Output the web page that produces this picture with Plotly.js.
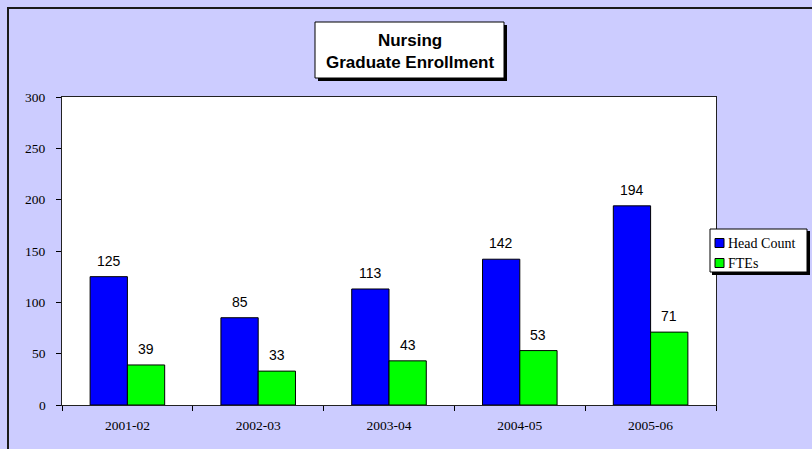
<!DOCTYPE html>
<html>
<head>
<meta charset="utf-8">
<script src="https://cdn.plot.ly/plotly-3.0.1.min.js"></script>
<style>html,body{margin:0;padding:0;background:#CCCCFF;}#chart{width:812px;height:449px;}</style>
</head>
<body>
<div id="chart"></div>
<script>
const categories = ["2001-02", "2002-03", "2003-04", "2004-05", "2005-06"];
const seriesNames = ["Head Count", "FTEs"];
const headCount = [125, 85, 113, 142, 194];
const ftes = [39, 33, 43, 53, 71];
const yTicks = [0, 50, 100, 150, 200, 250, 300];
const seriesColors = ["#0000FF", "#00FF00"];

const L = 62, R = 716, T = 97, B = 405;
const W = 812, H = 449;
const px = x => (x - L) / (R - L);
const py = y => (B - y) / (B - T);

const serif = "Liberation Serif, Times New Roman, serif";
const sans = "Liberation Sans, Arial, sans-serif";
const BARGAP = 0.43;
const half = (1 - BARGAP) / 4;

const seriesValues = [headCount, ftes];
const traces = seriesValues.map((vals, i) => ({
  type: "bar", name: seriesNames[i], x: categories, y: vals,
  marker: {color: seriesColors[i], line: {color: "#000", width: 1}},
  hoverinfo: "skip"
}));

const annotations = [];
// value labels
seriesValues.forEach((vals, s) => {
  vals.forEach((v, i) => {
    annotations.push({xref: "x", yref: "y", x: i + (s === 0 ? -half : half), y: v,
      xanchor: "center", yanchor: "bottom", yshift: 6, showarrow: false, text: String(v),
      font: {family: sans, size: 14, color: "#000"}});
  });
});
// y tick labels
yTicks.forEach(t => {
  annotations.push({xref: "paper", yref: "y", x: 0, y: t, xanchor: "right", yanchor: "middle",
    xshift: -14, yshift: 0, showarrow: false, text: String(t),
    font: {family: serif, size: 13.5, color: "#000"}});
});
// title
annotations.push({xref: "paper", yref: "paper", x: px(409.5), y: py(51), xanchor: "center", yanchor: "middle",
  text: "<b>Nursing</b><br><b>Graduate Enrollment</b>", showarrow: false,
  font: {family: sans, size: 17, color: "#000"}, align: "center"});
// legend texts
seriesNames.forEach((n, i) => {
  annotations.push({xref: "paper", yref: "paper", x: px(726), y: py(243 + i * 20), xanchor: "left", yanchor: "middle",
    text: n, showarrow: false, font: {family: serif, size: 14, color: "#000"}});
});

const shapes = [
  {type: "line", xref: "paper", yref: "paper", x0: px(8), x1: px(8), y0: py(7), y1: py(460),
   line: {color: "#1a1a1a", width: 2}},
  {type: "line", xref: "paper", yref: "paper", x0: px(7), x1: px(820), y0: py(8), y1: py(8),
   line: {color: "#1a1a1a", width: 2}},
  {type: "rect", xref: "paper", yref: "paper", x0: px(318), x1: px(507), y0: py(25), y1: py(81),
   fillcolor: "#000", line: {width: 0}},
  {type: "rect", xref: "paper", yref: "paper", x0: px(315), x1: px(504), y0: py(22), y1: py(78),
   fillcolor: "#FFFFFF", line: {color: "#000", width: 1}},
  {type: "rect", xref: "paper", yref: "paper", x0: px(712), x1: px(810), y0: py(231), y1: py(275),
   fillcolor: "#000", line: {width: 0}},
  {type: "rect", xref: "paper", yref: "paper", x0: px(710), x1: px(807), y0: py(229), y1: py(272),
   fillcolor: "#FFFFFF", line: {color: "#000", width: 1}}
];
seriesColors.forEach((c, i) => {
  shapes.push({type: "rect", xref: "paper", yref: "paper", x0: px(715), x1: px(724),
    y0: py(238.5 + i * 20), y1: py(247.5 + i * 20), fillcolor: c, line: {color: "#000", width: 1}});
});

const layout = {
  width: W, height: H,
  margin: {l: L, r: W - R, t: T, b: H - B, pad: 0, autoexpand: false},
  paper_bgcolor: "#CCCCFF",
  plot_bgcolor: "#FFFFFF",
  barmode: "group",
  bargap: BARGAP,
  bargroupgap: 0,
  showlegend: false,
  xaxis: {
    type: "category", tickson: "boundaries", ticks: "outside", ticklen: 5,
    tickcolor: "#000", showline: true, linecolor: "#222", linewidth: 1, mirror: true,
    showgrid: false, zeroline: false, fixedrange: true, ticklabelstandoff: 8,
    tickfont: {family: serif, size: 13.5, color: "#000"}
  },
  yaxis: {
    range: [0, 300], tickvals: yTicks, ticks: "outside", ticklen: 5, tickcolor: "#000",
    showline: true, linecolor: "#222", linewidth: 1, mirror: true, showticklabels: false,
    showgrid: false, zeroline: false, fixedrange: true
  },
  shapes: shapes,
  annotations: annotations
};

Plotly.newPlot("chart", traces, layout, {displayModeBar: false, staticPlot: true});
</script>
</body>
</html>
